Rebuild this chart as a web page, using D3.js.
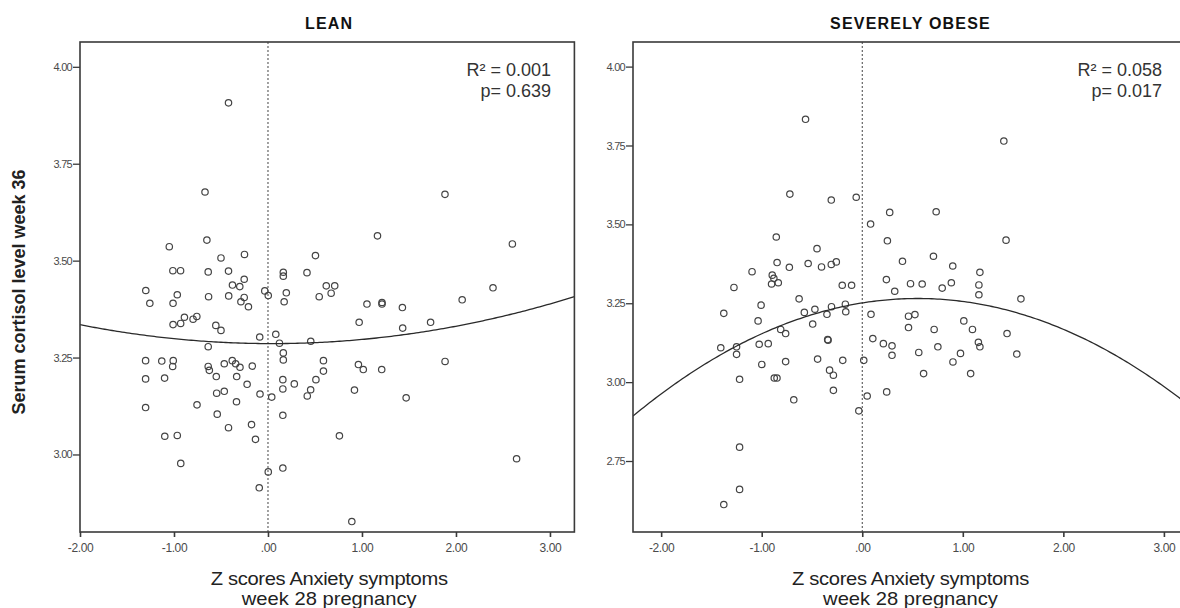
<!DOCTYPE html>
<html><head><meta charset="utf-8">
<script src="https://cdn.jsdelivr.net/npm/d3@7"></script>
<style>
body{margin:0;background:#fff;}
svg{display:block;font-family:"Liberation Sans",Arial,sans-serif;}
</style></head><body>
<svg id="chart" width="1180" height="608"></svg>
<script>
const panelTitles = ["LEAN", "SEVERELY OBESE"];
const xTickValues = [-2, -1, 0, 1, 2, 3];
const xTickLabels = ["-2.00", "-1.00", ".00", "1.00", "2.00", "3.00"];
const leanYTickValues = [3.00, 3.25, 3.50, 3.75, 4.00];
const leanYTickLabels = ["3.00", "3.25", "3.50", "3.75", "4.00"];
const obeseYTickValues = [2.75, 3.00, 3.25, 3.50, 3.75, 4.00];
const obeseYTickLabels = ["2.75", "3.00", "3.25", "3.50", "3.75", "4.00"];
const leanXDomain = [-2.0, 3.26];
const leanYDomain = [2.80, 4.064];
const obeseXDomain = [-2.28, 3.17];
const obeseYDomain = [2.525, 4.078];
const xAxisTitle = ["Z scores Anxiety symptoms", "week 28 pregnancy"];
const yAxisTitle = "Serum cortisol level week 36";
const leanStats = ["R\u00b2 = 0.001", "p= 0.639"];
const obeseStats = ["R\u00b2 = 0.058", "p= 0.017"];
// quadratic fit coefficients a + b*x + c*x^2
const leanFit = [3.286, -0.001, 0.0117];
const obeseFit = [3.251, 0.0512, -0.0465];

const leanPoints = [
[-0.42,3.907],[-0.67,3.677],[1.883,3.671],[-0.65,3.553],[-1.05,3.536],[1.165,3.564],[2.60,3.543],
[-0.50,3.507],[-0.25,3.516],[0.505,3.513],[-1.012,3.474],[-0.93,3.474],[-0.636,3.471],[-0.42,3.473],
[0.163,3.470],[0.163,3.460],[0.415,3.469],[-0.253,3.452],[-0.378,3.437],[-0.30,3.433],[0.62,3.435],
[0.71,3.435],[0.672,3.416],[-1.30,3.423],[-0.034,3.422],[0.003,3.410],[0.195,3.417],[0.545,3.407],
[-0.965,3.412],[-0.632,3.407],[-0.418,3.409],[-0.253,3.405],[-1.257,3.390],[-1.01,3.390],[-0.288,3.394],
[-0.208,3.381],[0.172,3.394],[1.053,3.388],[1.213,3.392],[1.213,3.388],[1.43,3.379],[2.066,3.399],
[2.394,3.430],[-0.889,3.354],[-0.797,3.349],[-0.757,3.356],[-1.01,3.335],[-0.929,3.338],[-0.555,3.333],
[-0.50,3.320],[0.97,3.341],[1.433,3.326],[1.73,3.341],[-0.088,3.303],[0.083,3.310],[0.122,3.287],
[0.455,3.292],[-0.636,3.278],[0.163,3.262],[0.163,3.244],[-1.302,3.242],[-1.13,3.241],[-1.008,3.242],
[-1.014,3.227],[-1.302,3.195],[-1.10,3.197],[-0.636,3.227],[-0.624,3.217],[-0.55,3.201],[-0.465,3.234],
[-0.38,3.242],[-0.344,3.234],[-0.298,3.225],[-0.167,3.228],[-0.333,3.201],[-0.222,3.181],[-0.546,3.158],
[-0.465,3.163],[-0.085,3.156],[0.04,3.148],[0.158,3.193],[0.158,3.169],[0.28,3.182],[-0.755,3.128],
[-0.335,3.136],[-1.302,3.121],[-0.54,3.104],[-0.42,3.069],[-0.175,3.077],[-0.133,3.039],[0.158,3.101],
[-1.098,3.047],[-0.965,3.049],[-0.928,2.977],[0.003,2.955],[0.158,2.965],[-0.093,2.914],[0.59,3.242],
[0.59,3.215],[0.51,3.193],[0.454,3.167],[0.418,3.151],[0.962,3.232],[1.014,3.219],[1.21,3.219],
[0.92,3.166],[1.47,3.146],[1.884,3.24],[0.76,3.048],[2.645,2.989],[0.892,2.827]
];

const obesePoints = [
[-0.564,3.833],[1.408,3.764],[-0.72,3.596],[-0.308,3.577],[-0.06,3.586],[0.273,3.538],[0.735,3.540],
[0.083,3.501],[-0.855,3.460],[0.25,3.448],[1.43,3.450],[-0.45,3.423],[0.40,3.383],[0.708,3.399],
[-0.847,3.379],[-0.725,3.364],[-0.538,3.376],[-0.405,3.365],[-0.308,3.373],[-0.258,3.381],[0.90,3.368],
[1.17,3.348],[-1.096,3.350],[-0.895,3.339],[-0.879,3.329],[-0.902,3.311],[-0.835,3.315],[0.24,3.325],
[0.48,3.312],[0.596,3.311],[0.886,3.315],[1.16,3.308],[1.16,3.277],[-0.199,3.307],[-0.106,3.307],
[-1.276,3.300],[0.323,3.288],[0.795,3.298],[-0.628,3.264],[1.578,3.264],[-1.006,3.244],[-0.168,3.247],
[-1.377,3.218],[-0.576,3.221],[-0.471,3.231],[-0.306,3.239],[-0.351,3.215],[-0.164,3.223],[0.087,3.215],
[0.46,3.209],[0.524,3.214],[-1.036,3.194],[-0.493,3.184],[-0.811,3.167],[-0.762,3.154],[0.46,3.173],
[0.715,3.167],[1.01,3.194],[1.096,3.167],[1.44,3.154],[-0.344,3.135],[-0.34,3.133],[0.105,3.138],
[0.21,3.122],[0.296,3.115],[1.155,3.126],[1.17,3.112],[0.752,3.112],[-1.407,3.109],[-1.25,3.112],
[-1.25,3.088],[-1.025,3.120],[-0.935,3.122],[0.296,3.085],[0.562,3.094],[0.977,3.091],[1.537,3.089],
[-0.444,3.073],[-0.194,3.069],[0.015,3.069],[-0.999,3.056],[-0.762,3.065],[0.902,3.064],[0.61,3.027],
[1.078,3.027],[-0.325,3.038],[-0.287,3.022],[-0.875,3.013],[-0.848,3.013],[-1.22,3.009],[-0.287,2.974],
[0.243,2.969],[0.049,2.956],[-0.681,2.944],[-0.034,2.909],[-1.22,2.794],[-1.22,2.660],[-1.377,2.612]
];

const svg = d3.select("#chart");
svg.append("rect").attr("width",1180).attr("height",608).attr("fill","#fff");

const INK = "#3a3a3a";

function drawPanel(cfg) {
  const {left, right, top, bottom, xDom, yDom, yTicks, yLabels, points, fit, stats, title} = cfg;
  const x = d3.scaleLinear().domain(xDom).range([left, right]);
  const y = d3.scaleLinear().domain(yDom).range([bottom, top]);
  const g = svg.append("g");
  const cx = (left + Math.min(right, 1180)) / 2 + cfg.titleShift;

  const clipId = "clip" + Math.round(left);
  svg.append("clipPath").attr("id", clipId).append("rect")
    .attr("x", left).attr("y", top).attr("width", right - left).attr("height", bottom - top);

  // y axis
  const ya = g.append("g").attr("transform", `translate(${left},0)`)
    .call(d3.axisLeft(y).tickValues(yTicks).tickFormat((d,i)=>yLabels[i]).tickSize(7).tickPadding(1));
  ya.select(".domain").remove();
  ya.selectAll(".tick line").attr("stroke", INK).attr("stroke-width", 1.3);
  ya.selectAll(".tick text").attr("fill", "#4a4a4a").attr("font-size", 11)
    .attr("letter-spacing", "-0.7px").attr("font-family", "'Liberation Sans', Arial, sans-serif");

  // x axis
  const xa = g.append("g").attr("transform", `translate(0,${bottom})`)
    .call(d3.axisBottom(x).tickValues(xTickValues).tickFormat((d,i)=>xTickLabels[i]).tickSize(5).tickPadding(6));
  xa.select(".domain").remove();
  xa.selectAll(".tick line").attr("stroke", INK).attr("stroke-width", 1.6);
  xa.selectAll(".tick text").attr("fill", "#4a4a4a").attr("font-size", 12)
    .attr("letter-spacing", "-0.4px").attr("font-family", "'Liberation Sans', Arial, sans-serif");

  // zero reference line
  g.append("line").attr("x1", x(0)).attr("x2", x(0)).attr("y1", top).attr("y2", bottom)
    .attr("stroke", "#444").attr("stroke-width", 1).attr("stroke-dasharray", "2,2");

  // points
  g.append("g").selectAll("circle").data(points).join("circle")
    .attr("cx", d => x(d[0])).attr("cy", d => y(d[1])).attr("r", 3.2)
    .attr("fill", "none").attr("stroke", "#444").attr("stroke-width", 1.2);

  // fit curve
  const xs = d3.range(0, 201).map(i => xDom[0] + (xDom[1] - xDom[0]) * i / 200);
  const line = d3.line().x(d => x(d)).y(d => y(fit[0] + fit[1]*d + fit[2]*d*d));
  g.append("path").datum(xs).attr("d", line).attr("fill", "none")
    .attr("stroke", "#2a2a2a").attr("stroke-width", 1.3).attr("clip-path", `url(#${clipId})`);

  // frame
  g.append("rect").attr("x", left).attr("y", top).attr("width", right - left).attr("height", bottom - top)
    .attr("fill", "none").attr("stroke", INK).attr("stroke-width", 1.6);

  // stats
  const st = g.append("text").attr("text-anchor", "end").attr("font-size", 18).attr("fill", "#333");
  stats.forEach((s, i) => {
    st.append("tspan").attr("x", cfg.statsX).attr("y", 76 + i * 21).text(s);
  });

  // title
  g.append("text").attr("x", cx).attr("y", 29)
    .attr("text-anchor", "middle").attr("font-size", 16).attr("font-weight", "bold")
    .attr("letter-spacing", "1.2px").attr("fill", "#111").text(title);

  // x title (two lines, slightly widened like the source)
  xAxisTitle.forEach((t, i) => {
    g.append("text").attr("transform", `translate(${cx},${585 + i * 20}) scale(1.12,1)`)
      .attr("text-anchor", "middle").attr("font-size", 18).attr("fill", "#222")
      .attr("letter-spacing", i === 0 ? "-0.3px" : "0px").text(t);
  });
}

drawPanel({left: 80, right: 574.4, top: 42, bottom: 532, xDom: leanXDomain, yDom: leanYDomain,
  yTicks: leanYTickValues, yLabels: leanYTickLabels, points: leanPoints, fit: leanFit,
  stats: leanStats, statsX: 551, title: panelTitles[0], titleShift: 2});
drawPanel({left: 633, right: 1181, top: 42, bottom: 532, xDom: obeseXDomain, yDom: obeseYDomain,
  yTicks: obeseYTickValues, yLabels: obeseYTickLabels, points: obesePoints, fit: obeseFit,
  stats: obeseStats, statsX: 1162, title: panelTitles[1], titleShift: 4});

svg.append("text").attr("transform", "translate(25,292) rotate(-90)")
  .attr("text-anchor", "middle").attr("font-size", 18).attr("font-weight", "bold")
  .attr("fill", "#222").text(yAxisTitle);
</script>
</body></html>
